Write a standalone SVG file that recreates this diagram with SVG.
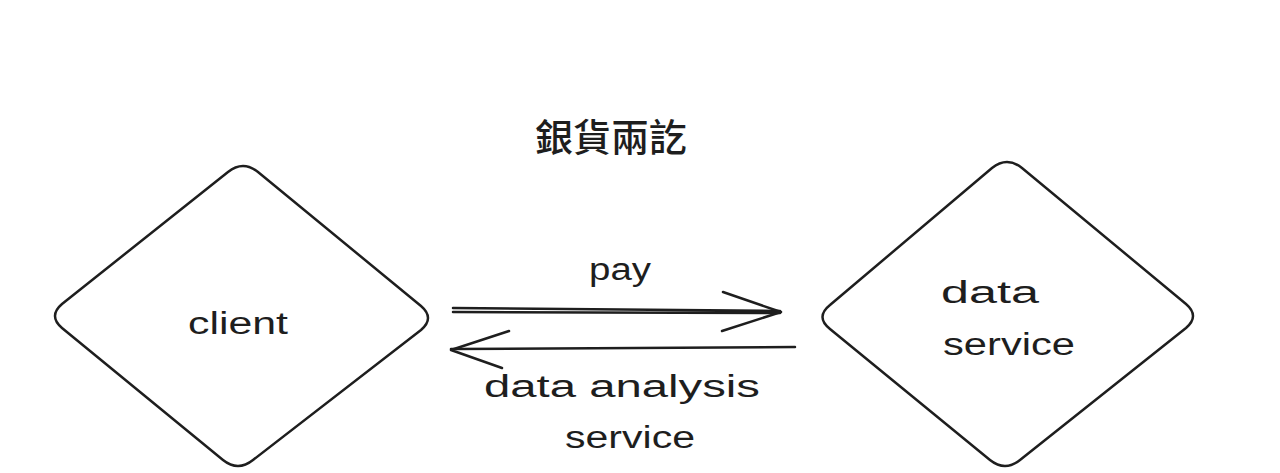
<svg xmlns="http://www.w3.org/2000/svg" width="1280" height="473" viewBox="0 0 1280 473">
<style>
.shape{fill:none;stroke:#1e1e1e;stroke-width:2.5;stroke-linecap:round;stroke-linejoin:round}
.lbl{font-family:"Liberation Sans","DejaVu Sans",sans-serif;font-size:31px;fill:#1e1e1e}
.title{font-family:"Noto Sans CJK TC","Noto Sans CJK SC",sans-serif;font-size:38px;font-weight:500;fill:#1e1e1e}
.conn{fill:none;stroke:#1e1e1e;stroke-width:2.5;stroke-linecap:round;stroke-linejoin:round}
</style>
<rect width="1280" height="473" fill="#ffffff"/>
<g id="title"><text class="title" x="611" y="151" text-anchor="middle">銀貨兩訖</text></g>
<g id="client">
<path class="shape" d="M228,172 Q243,160 258,172 L421,306 Q435,318 421,330 L253,460 Q238,472 223,460 L62,328 Q48,316 62,304 Z"/>
<text class="lbl" x="188" y="334" textLength="100" lengthAdjust="spacingAndGlyphs">client</text>
</g>
<g id="data-service">
<path class="shape" d="M992,168 Q1007,156 1022,168 L1186,304 Q1200,316 1186,328 L1020,460 Q1005,472 990,460 L830,329 Q815,317 830,305 Z"/>
<text class="lbl" x="941" y="303" textLength="98" lengthAdjust="spacingAndGlyphs">data</text>
<text class="lbl" x="943" y="355" textLength="132" lengthAdjust="spacingAndGlyphs">service</text>
</g>
<g id="connectors">
<path class="conn" d="M453,308 L780,311 M453,312 L780,313"/>
<path class="conn" d="M723,292 L781,312 L722,331"/>
<text class="lbl" x="589" y="280" textLength="62" lengthAdjust="spacingAndGlyphs">pay</text>
<path class="conn" d="M795,347 L451,349"/>
<path class="conn" d="M509,331 L451,350 L502,368"/>
<text class="lbl" x="484" y="397" textLength="276" lengthAdjust="spacingAndGlyphs">data analysis</text>
<text class="lbl" x="565" y="448" textLength="130" lengthAdjust="spacingAndGlyphs">service</text>
</g>
</svg>
